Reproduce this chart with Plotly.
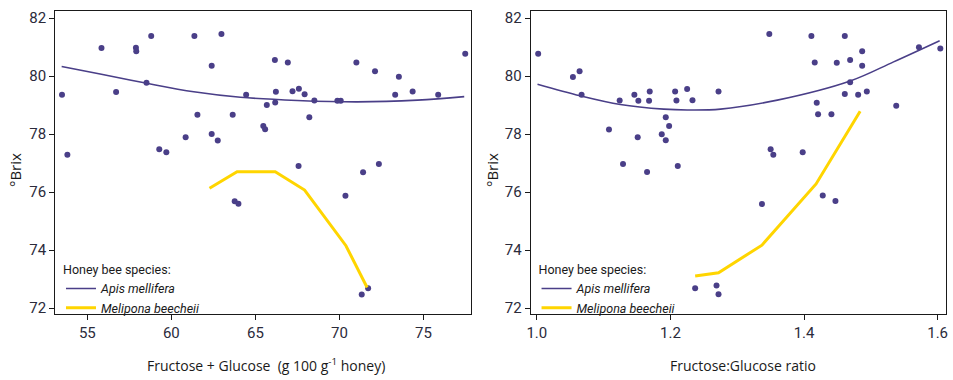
import plotly.graph_objects as go

# ---- Left panel: Fructose + Glucose vs Brix (Apis mellifera samples)
fg_x = [53.49, 53.81, 55.84, 56.71, 57.89, 57.91, 58.52, 58.80, 59.28, 59.70,
        60.85, 61.37, 61.55, 62.40, 62.40, 62.76, 62.98, 63.65,
        64.45, 65.47, 65.58, 65.68, 66.16, 66.22, 66.18, 66.93, 67.21, 67.59,
        67.93, 68.21, 68.51, 67.57, 69.88, 70.08, 71.01, 72.12, 73.54, 73.32,
        74.36, 75.88, 77.49, 71.41, 72.35,
        63.77, 63.99, 70.36, 71.33, 71.71]
fg_y = [79.36, 77.29, 80.97, 79.45, 80.98, 80.86, 79.77, 81.38, 77.48, 77.37,
        77.89, 81.38, 78.67, 80.36, 78.00, 77.78, 81.45, 78.67,
        79.36, 78.28, 78.17, 79.00, 80.55, 79.46, 79.09, 80.47, 79.48, 79.56,
        79.37, 78.58, 79.16, 76.90, 79.15, 79.15, 80.47, 80.17, 79.98, 79.36,
        79.47, 79.36, 80.77, 76.68, 76.97,
        75.68, 75.60, 75.87, 72.47, 72.68]

# Apis mellifera trend curve
fg_fit_x = [53.47, 55.76, 58.54, 61.33, 64.11, 67.49, 71.07, 74.65, 77.43]
fg_fit_y = [80.33, 80.07, 79.75, 79.46, 79.27, 79.16, 79.11, 79.17, 79.29]

# Melipona beecheii curve
fg_mel_x = [62.27, 63.91, 66.18, 67.93, 70.39, 71.65]
fg_mel_y = [76.13, 76.70, 76.70, 76.07, 74.15, 72.71]

# ---- Right panel: Fructose:Glucose ratio vs Brix
fr_x = [1.002, 1.054, 1.064, 1.067, 1.108, 1.124, 1.129, 1.146, 1.152, 1.151,
        1.165, 1.169, 1.168, 1.187, 1.193, 1.198, 1.193, 1.207, 1.209, 1.211,
        1.225, 1.233, 1.272,
        1.348, 1.350, 1.354, 1.398, 1.411, 1.416, 1.419, 1.421, 1.441, 1.449,
        1.461, 1.461, 1.469, 1.469, 1.481, 1.487, 1.487, 1.494, 1.538, 1.572,
        1.604,
        1.237, 1.269, 1.272, 1.337, 1.428, 1.447]
fr_y = [80.77, 79.97, 80.17, 79.36, 78.16, 79.16, 76.97, 79.36, 79.15, 77.89,
        76.69, 79.47, 79.15, 77.99, 78.58, 78.28, 77.79, 79.47, 79.16, 76.90,
        79.55, 79.17, 79.47,
        81.45, 77.48, 77.29, 77.37, 81.38, 80.47, 79.08, 78.68, 78.68, 80.46,
        81.38, 79.38, 80.55, 79.79, 79.36, 80.86, 80.36, 79.47, 78.98, 80.99,
        80.95,
        72.68, 72.78, 72.48, 75.59, 75.88, 75.69]

fr_fit_x = [1.001, 1.065, 1.125, 1.190, 1.225, 1.275, 1.360, 1.469, 1.534, 1.603]
fr_fit_y = [79.72, 79.32, 79.02, 78.86, 78.83, 78.86, 79.17, 79.83, 80.49, 81.22]

fr_mel_x = [1.237, 1.272, 1.337, 1.418, 1.484]
fr_mel_y = [73.11, 73.22, 74.17, 76.28, 78.79]

y_ticks = [72, 74, 76, 78, 80, 82]
x1_ticks = [55, 60, 65, 70, 75]
x2_ticks = [1.0, 1.2, 1.4, 1.6]
x2_labels = ["1.0", "1.2", "1.4", "1.6"]

PURPLE = "#4a3f88"
YELLOW = "#ffd500"
TXT = "#2b2b3b"
FONT = "Roboto, Arial, sans-serif"

fig = go.Figure()

for i, (sx, sy, fx, fy, mx, my) in enumerate([
        (fg_x, fg_y, fg_fit_x, fg_fit_y, fg_mel_x, fg_mel_y),
        (fr_x, fr_y, fr_fit_x, fr_fit_y, fr_mel_x, fr_mel_y)]):
    xa = "x" if i == 0 else "x2"
    ya = "y" if i == 0 else "y2"
    lg = "legend" if i == 0 else "legend2"
    fig.add_trace(go.Scatter(x=sx, y=sy, mode="markers", xaxis=xa, yaxis=ya,
                             marker=dict(color=PURPLE, size=6), showlegend=False,
                             hoverinfo="x+y"))
    fig.add_trace(go.Scatter(x=fx, y=fy, mode="lines", xaxis=xa, yaxis=ya,
                             line=dict(color=PURPLE, width=1.6, shape="spline"),
                             name="<i>Apis mellifera</i>", legend=lg))
    fig.add_trace(go.Scatter(x=mx, y=my, mode="lines", xaxis=xa, yaxis=ya,
                             line=dict(color=YELLOW, width=3),
                             name="<i>Melipona beecheii</i>", legend=lg))

axis_common = dict(showline=True, linecolor="#1a1a1a", linewidth=1.3, mirror=True,
                   ticks="outside", ticklen=5, tickcolor="#1a1a1a", tickwidth=1.3,
                   showgrid=False, zeroline=False, automargin=False,
                   tickfont=dict(family=FONT, size=15, color=TXT))

LEG_FONT = dict(family=FONT, size=12.5, color="#1a1a1a")

fig.update_layout(
    template="none",
    width=953, height=380,
    margin=dict(l=0, r=0, t=0, b=0, autoexpand=False),
    paper_bgcolor="white", plot_bgcolor="white",
    xaxis=dict(domain=[0.058, 0.494], range=[53.09, 77.82],
               tickvals=x1_ticks, anchor="y", **axis_common),
    yaxis=dict(domain=[0.174, 0.970], range=[71.80, 82.23],
               tickvals=y_ticks, anchor="x", **axis_common),
    xaxis2=dict(domain=[0.557, 0.993], range=[0.991, 1.613],
                tickvals=x2_ticks, ticktext=x2_labels, anchor="y2", **axis_common),
    yaxis2=dict(domain=[0.174, 0.970], range=[71.80, 82.23],
                tickvals=y_ticks, anchor="x2", **axis_common),
    legend=dict(x=0.064, y=0.322, xanchor="left", yanchor="top",
                bgcolor="rgba(0,0,0,0)", itemwidth=30, tracegroupgap=0,
                title=dict(text="Honey bee species:", font=LEG_FONT),
                font=LEG_FONT),
    legend2=dict(x=0.563, y=0.322, xanchor="left", yanchor="top",
                 bgcolor="rgba(0,0,0,0)", itemwidth=30, tracegroupgap=0,
                 title=dict(text="Honey bee species:", font=LEG_FONT),
                 font=LEG_FONT),
    showlegend=True,
)

ann_font = dict(family="Open Sans, Noto Sans, sans-serif", size=14, color="#1a1a1a")
fig.add_annotation(text="Fructose + Glucose  (g 100 g<sup>-1</sup> honey)", xref="paper", yref="paper",
                   x=266 / 953, y=1 - 365 / 380, showarrow=False, font=ann_font,
                   xanchor="center", yanchor="middle")
fig.add_annotation(text="Fructose:Glucose ratio", xref="paper", yref="paper",
                   x=743 / 953, y=1 - 365 / 380, showarrow=False, font=ann_font,
                   xanchor="center", yanchor="middle")
for xpix in (15, 492):
    fig.add_annotation(text="°Brix", xref="paper", yref="paper",
                       x=xpix / 953, y=1 - 170 / 380, showarrow=False, textangle=-90,
                       font=dict(family="Open Sans, Noto Sans, sans-serif", size=15, color="#1a1a1a"),
                       xanchor="center", yanchor="middle")

fig.write_html("out.html",
               config={"displayModeBar": False},
               post_script="document.body.style.margin='0';document.body.style.padding='0';"
                           "document.body.style.overflow='hidden';")
